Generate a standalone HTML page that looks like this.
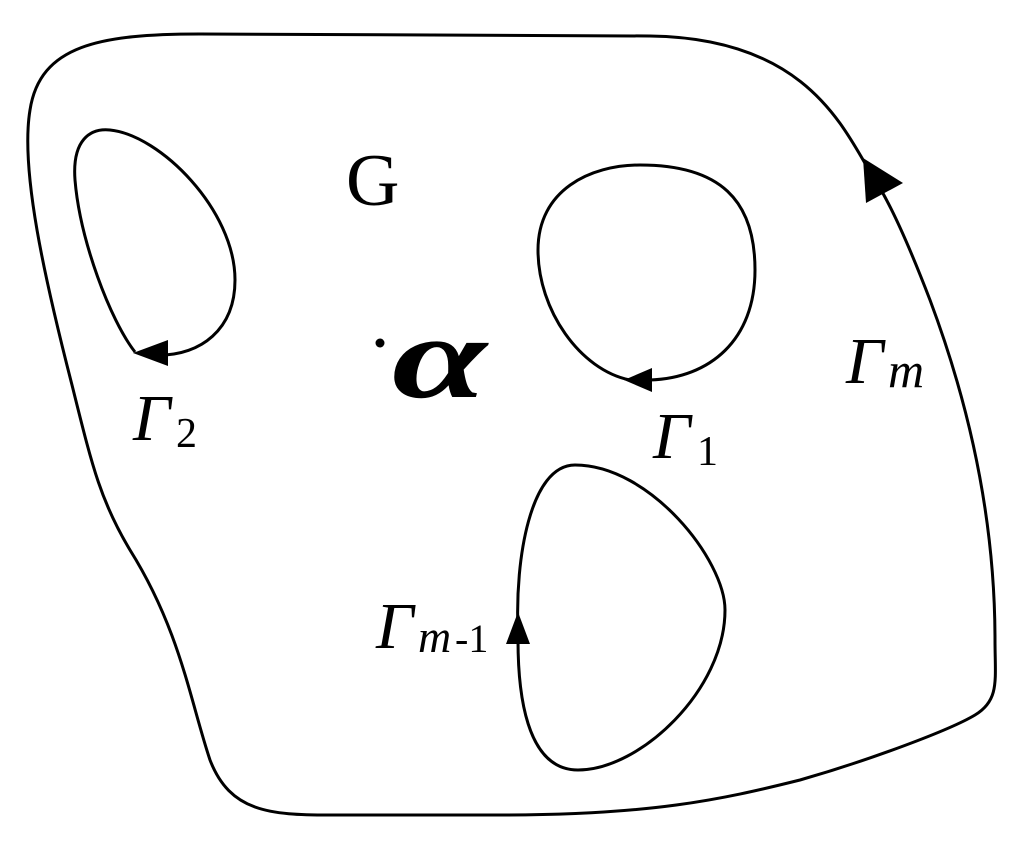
<!DOCTYPE html>
<html><head><style>
body{margin:0;background:#fff;width:1027px;height:841px;overflow:hidden}
text{font-family:"Liberation Serif",serif;font-style:italic;fill:#000}
</style></head><body>
<svg width="1027" height="841" viewBox="0 0 1027 841">
<g fill="none" stroke="#000" stroke-width="3">
<path d="M870,172 C840,120 800,38 650,36 L200,34 C100,34 40,45 30,110 C20,170 45,280 72,385 C92,465 100,500 130,550 C180,630 190,700 210,760 C230,812 270,815 330,815 L500,815 C650,815 720,800 800,780 C870,760 950,730 975,715 C1000,700 995,680 995,640 C995,500 960,380 930,300 C905,235 888,200 875,180"/>
<path d="M135,352 C110,320 80,240 75,180 C72,140 90,128 110,130 C160,135 235,210 235,280 C235,330 200,355 160,355"/>
<path d="M630,380 C580,370 538,310 538,250 C538,190 590,165 640,165 C720,165 755,200 755,270 C755,340 710,378 650,380"/>
<path d="M518,630 C515,560 530,465 575,465 C650,465 725,560 725,610 C725,690 640,770 578,770 C525,770 518,690 518,640"/>
</g>
<g fill="#000">
<polygon points="863,158 903,183 866,203"/>
<polygon points="133,353 168,340 168,366"/>
<polygon points="624,380 652,368 652,392"/>
<polygon points="518,612 506,644 530,644"/>
<circle cx="380" cy="343" r="4.5"/>
</g>
<text x="346" y="205" font-size="74" style="font-style:normal">G</text>
<text transform="translate(392,397) scale(1.45,1)" font-size="118" font-weight="bold">α</text>
<text x="133" y="440" font-size="66">Γ</text>
<text x="176" y="447" font-size="42" style="font-style:normal">2</text>
<text x="653" y="458" font-size="66">Γ</text>
<text x="697" y="465" font-size="42" style="font-style:normal">1</text>
<text x="846" y="383" font-size="66">Γ</text>
<text x="888" y="387" font-size="50">m</text>
<text x="376" y="648" font-size="66">Γ</text>
<text x="418" y="652" font-size="46">m</text>
<text x="455" y="652" font-size="40" style="font-style:normal">-1</text>
</svg>
</body></html>
